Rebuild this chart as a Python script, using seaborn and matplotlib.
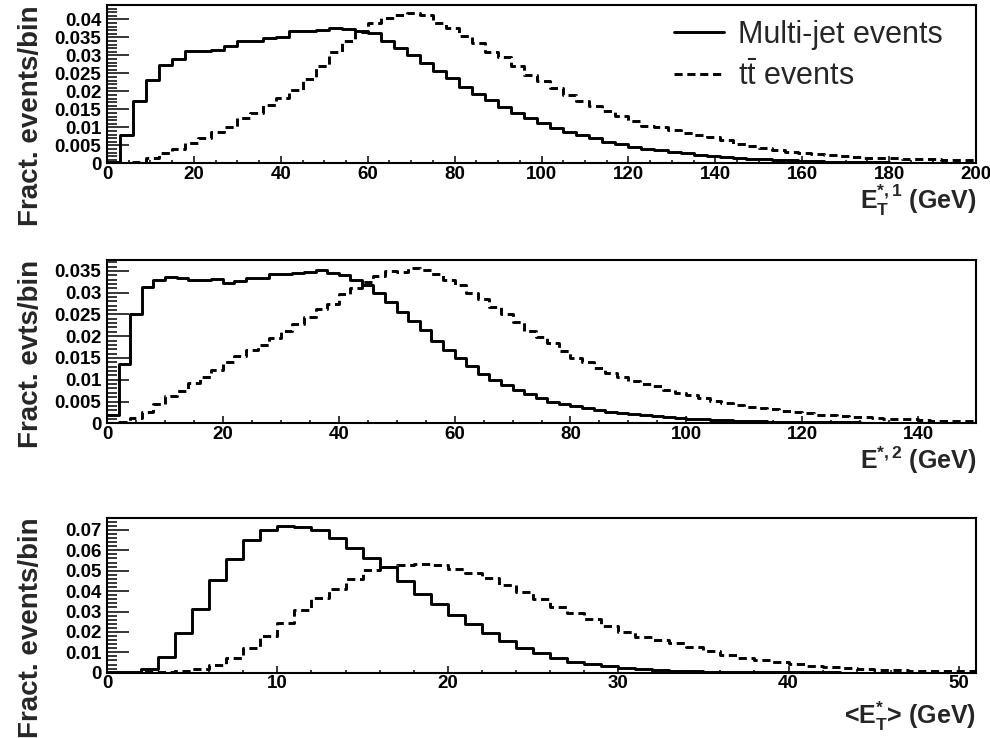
import numpy as np
import pandas as pd
import matplotlib
matplotlib.use("Agg")
import matplotlib.pyplot as plt
from matplotlib import font_manager as fm
from matplotlib.ticker import MultipleLocator, FuncFormatter
import seaborn as sns

# ---------------- data (fraction of events per bin) ----------------
edges_et1 = list(range(0, 204, 3))          # 3 GeV bins, 0..201
mj_et1 = [0.0005, 0.0078, 0.0172, 0.0232, 0.0272, 0.0289, 0.0311, 0.0311, 0.0316, 0.0326,
          0.0341, 0.0341, 0.0347, 0.0352, 0.0367, 0.0369, 0.0371, 0.0375, 0.0372, 0.0369,
          0.0361, 0.0340, 0.0321, 0.0301, 0.0278, 0.0257, 0.0236, 0.0213, 0.0194, 0.0176,
          0.0157, 0.0140, 0.0125, 0.0111, 0.0097, 0.0088, 0.0079, 0.0070, 0.0060, 0.0053,
          0.0046, 0.0040, 0.0037, 0.0032, 0.0028, 0.0024, 0.0021, 0.0018, 0.0015, 0.0013,
          0.0011, 0.0010, 0.0008, 0.0007, 0.0006, 0.0005, 0.0004, 0.0004, 0.0003, 0.0003,
          0.0002, 0.0002, 0.0002, 0.0001, 0.0001, 0.0001, 0.0001]
tt_et1 = [0.0, 0.0002, 0.0005, 0.0014, 0.0030, 0.0040, 0.0056, 0.0069, 0.0088, 0.0102,
          0.0125, 0.0140, 0.0162, 0.0182, 0.0205, 0.0235, 0.0270, 0.0310, 0.0340, 0.0365,
          0.0390, 0.0405, 0.0412, 0.0418, 0.0412, 0.0390, 0.0375, 0.0355, 0.0335, 0.0310,
          0.0295, 0.0270, 0.0245, 0.0228, 0.0210, 0.0190, 0.0172, 0.0160, 0.0145, 0.0132,
          0.0118, 0.0104, 0.0100, 0.0092, 0.0085, 0.0080, 0.0072, 0.0064, 0.0055, 0.0048,
          0.0042, 0.0036, 0.0031, 0.0028, 0.0025, 0.0022, 0.0020, 0.0018, 0.0016, 0.0015,
          0.0014, 0.0013, 0.0012, 0.0011, 0.0010, 0.0010, 0.0009]

edges_et2 = list(range(0, 152, 2))          # 2 GeV bins, 0..150
mj_et2 = [0.0019, 0.0136, 0.0252, 0.0313, 0.0329, 0.0336, 0.0333, 0.0329, 0.0330, 0.0332,
          0.0323, 0.0327, 0.0334, 0.0334, 0.0342, 0.0343, 0.0344, 0.0348, 0.0351, 0.0345,
          0.0340, 0.0330, 0.0317, 0.0300, 0.0279, 0.0256, 0.0235, 0.0214, 0.0189, 0.0168,
          0.0149, 0.0131, 0.0113, 0.0099, 0.0088, 0.0076, 0.0067, 0.0057, 0.0050, 0.0044,
          0.0040, 0.0035, 0.0031, 0.0027, 0.0024, 0.0021, 0.0018, 0.0016, 0.0014, 0.0012,
          0.0011, 0.0010, 0.0008, 0.0007, 0.0006, 0.0005, 0.0005, 0.0004, 0.0003, 0.0003,
          0.0002, 0.0002, 0.0002, 0.0002, 0.0002, 0.0001, 0.0001, 0.0001, 0.0001, 0.0001,
          0.0001, 0.0001, 0.0001, 0.0001, 0.0001]
tt_et2 = [0.0001, 0.0003, 0.0012, 0.0025, 0.0045, 0.0062, 0.0075, 0.0092, 0.0106, 0.0122,
          0.0140, 0.0155, 0.0168, 0.0180, 0.0195, 0.0212, 0.0228, 0.0245, 0.0262, 0.0275,
          0.0298, 0.0310, 0.0325, 0.0338, 0.0350, 0.0348, 0.0356, 0.0352, 0.0342, 0.0330,
          0.0318, 0.0300, 0.0285, 0.0268, 0.0250, 0.0232, 0.0212, 0.0198, 0.0185, 0.0165,
          0.0150, 0.0140, 0.0127, 0.0116, 0.0106, 0.0097, 0.0090, 0.0085, 0.0076, 0.0069,
          0.0064, 0.0058, 0.0052, 0.0046, 0.0042, 0.0038, 0.0035, 0.0032, 0.0029, 0.0026,
          0.0023, 0.0020, 0.0019, 0.0017, 0.0015, 0.0014, 0.0012, 0.0010, 0.0009, 0.0009,
          0.0007, 0.0006, 0.0006, 0.0005, 0.0005]

edges_avg = list(range(0, 52, 1))           # 1 GeV bins, 0..51
mj_avg = [0.0003, 0.0003, 0.0016, 0.0075, 0.0193, 0.0312, 0.0454, 0.0557, 0.0650, 0.0700,
          0.0721, 0.0716, 0.0700, 0.0659, 0.0613, 0.0564, 0.0520, 0.0450, 0.0384, 0.0337,
          0.0283, 0.0237, 0.0193, 0.0155, 0.0119, 0.0095, 0.0071, 0.0054, 0.0042, 0.0033,
          0.0023, 0.0016, 0.0011, 0.0008, 0.0006, 0.0004, 0.0003, 0.0002, 0.0002, 0.0001,
          0.0001, 0.0001, 0.0001, 0.0, 0.0, 0.0, 0.0, 0.0, 0.0, 0.0, 0.0]
tt_avg = [0.0, 0.0, 0.0001, 0.0003, 0.0008, 0.0016, 0.0038, 0.0074, 0.0120, 0.0180,
          0.0242, 0.0307, 0.0365, 0.0412, 0.0460, 0.0503, 0.0520, 0.0528, 0.0533, 0.0528,
          0.0508, 0.0487, 0.0463, 0.0430, 0.0394, 0.0360, 0.0324, 0.0294, 0.0262, 0.0229,
          0.0201, 0.0176, 0.0158, 0.0144, 0.0127, 0.0106, 0.0087, 0.0074, 0.0062, 0.0051,
          0.0041, 0.0034, 0.0028, 0.0021, 0.0018, 0.0015, 0.0012, 0.0010, 0.0008, 0.0007,
          0.0006]

series_labels = ["Multi-jet events", r"$\mathrm{t\bar{t}}$ events"]
y_titles = ["Fract. events/bin", "Fract. evts/bin", "Fract. events/bin"]
x_titles = [r"$\mathbf{E}_{\mathbf{T}}^{\mathbf{*,1}}$ (GeV)",
            r"$\mathbf{E}^{\mathbf{*,2}}$ (GeV)",
            r"<$\mathbf{E}_{\mathbf{T}}^{\mathbf{*}}$> (GeV)"]

# ---------------- style ----------------
sns.set_style("ticks")
plt.rcParams["font.family"] = ["Liberation Sans", "DejaVu Sans"]
plt.rcParams["font.weight"] = "bold"
plt.rcParams["mathtext.fontset"] = "custom"
plt.rcParams["mathtext.rm"] = "Liberation Sans:weight=normal"
plt.rcParams["mathtext.it"] = "Liberation Sans:italic:weight=normal"
plt.rcParams["mathtext.bf"] = "Liberation Sans:weight=bold"


def has_font(name):
    try:
        fm.findfont(fm.FontProperties(family=name, weight="bold"), fallback_to_default=False)
        return True
    except Exception:
        return False


ylab_family = "Liberation Sans Narrow" if has_font("Liberation Sans Narrow") else "Liberation Sans"
ylab_size = 24 if ylab_family == "Liberation Sans Narrow" else 20

fig = plt.figure(figsize=(9.9, 7.38), dpi=100)
W, H = 990.0, 738.0
# axes boxes in pixels: (left, top, right, bottom)
boxes = [(107, 5, 976, 163.3), (107, 260, 976, 423.3), (107, 517.7, 976, 672.7)]
axes = [fig.add_axes([l / W, 1 - b / H, (r - l) / W, (b - t) / H]) for (l, t, r, b) in boxes]

panels = [
    dict(edges=edges_et1, mj=mj_et1, tt=tt_et1, xlim=(0, 200), ylim=(0, 0.044),
         xmaj=20, xmin=5, ymaj=0.005, ymin=0.001, xlab_y=-0.125),
    dict(edges=edges_et2, mj=mj_et2, tt=tt_et2, xlim=(0, 150), ylim=(0, 0.0375),
         xmaj=20, xmin=5, ymaj=0.005, ymin=0.001, xlab_y=-0.132),
    dict(edges=edges_avg, mj=mj_avg, tt=tt_avg, xlim=(0, 51), ylim=(0, 0.076),
         xmaj=10, xmin=2, ymaj=0.01, ymin=0.002, xlab_y=-0.175),
]

fmt = FuncFormatter(lambda v, p: "%g" % round(v, 6))

for i, (ax, p) in enumerate(zip(axes, panels)):
    edges = [float(e) for e in p["edges"]]
    centers = [0.5 * (a + b) for a, b in zip(edges[:-1], edges[1:])]
    df = pd.DataFrame({"x": centers, "mj": p["mj"], "tt": p["tt"]})
    sns.histplot(data=df, x="x", weights="mj", bins=edges, element="step", fill=False,
                 color="black", linewidth=2.1, ax=ax)
    sns.histplot(data=df, x="x", weights="tt", bins=edges, element="step", fill=False,
                 color="black", linewidth=2.1, linestyle=(0, (2.8, 1.6)), ax=ax)
    ax.set_xlim(*p["xlim"])
    ax.set_ylim(*p["ylim"])
    ax.xaxis.set_major_locator(MultipleLocator(p["xmaj"]))
    ax.xaxis.set_minor_locator(MultipleLocator(p["xmin"]))
    ax.yaxis.set_major_locator(MultipleLocator(p["ymaj"]))
    ax.yaxis.set_minor_locator(MultipleLocator(p["ymin"]))
    ax.yaxis.set_major_formatter(fmt)
    ax.xaxis.set_major_formatter(fmt)
    ax.tick_params(axis="both", which="both", direction="in", top=False, right=False,
                   labelsize=13.5, width=1.1, color="black", labelcolor="black")
    ax.tick_params(axis="y", which="major", length=16, pad=4)
    ax.tick_params(axis="y", which="minor", length=7)
    ax.tick_params(axis="x", which="major", length=5, pad=2)
    ax.tick_params(axis="x", which="minor", length=2.5)
    for s in ax.spines.values():
        s.set_linewidth(1.5)
        s.set_color("black")
    ax.set_ylabel(y_titles[i], loc="top", fontsize=ylab_size, fontweight="bold",
                  family=[ylab_family, "DejaVu Sans"])
    ax.yaxis.set_label_coords(-0.072, 1.0)
    ax.set_xlabel(x_titles[i], loc="right", fontsize=18, fontweight="bold")
    ax.xaxis.set_label_coords(1.0, p["xlab_y"])
    ax.set_facecolor("white")

# legend on the top panel
lines = axes[0].get_lines()
leg = axes[0].legend(handles=[lines[0], lines[1]], labels=series_labels,
                     loc="upper right", bbox_to_anchor=(0.972, 0.962), frameon=False,
                     prop={"family": "Liberation Sans", "weight": "normal", "size": 22},
                     handlelength=1.65, handletextpad=0.45, labelspacing=0.35,
                     borderaxespad=0.0, borderpad=0.3)

fig.savefig("out.png", dpi=100, facecolor="white")
